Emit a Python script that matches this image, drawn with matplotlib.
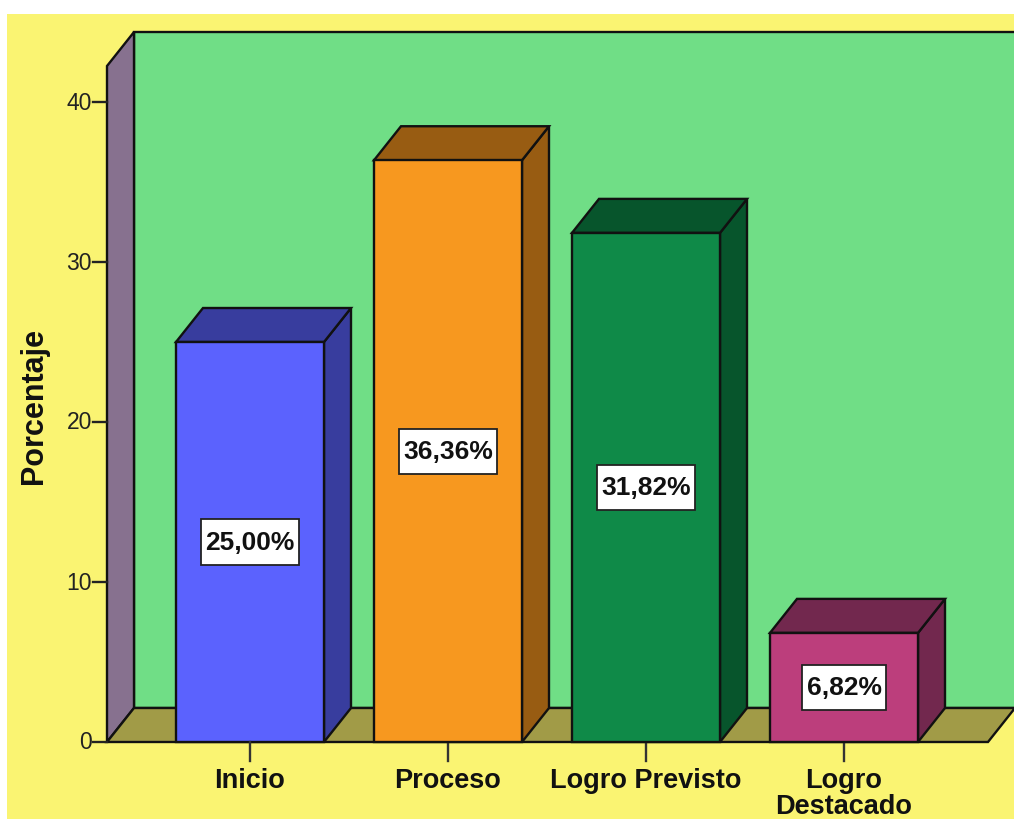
import matplotlib
matplotlib.use("Agg")
import matplotlib.pyplot as plt
from matplotlib.patches import Polygon, Rectangle
from matplotlib.path import Path

# ---- data ----
categories = ["Inicio", "Proceso", "Logro Previsto", "Logro\nDestacado"]
values = [25.00, 36.36, 31.82, 6.82]
value_labels = ["25,00%", "36,36%", "31,82%", "6,82%"]
yticks = [0, 10, 20, 30, 40]
ylabel = "Porcentaje"

front_colors = ["#5B62FE", "#F7981F", "#0F8A48", "#BC3E7C"]
dark_colors = ["#383D9E", "#985C12", "#07552C", "#72284E"]

# ---- layout (pixel geometry of the figure) ----
W, H = 1014, 820
DPI = 100
px_per_unit = 16.0      # pixels per percentage unit
y0_px = 743             # pixel row of value 0 (from top)
cat0_px = 250           # pixel column of first category centre
cat_step_px = 198
bar_w = 148 / cat_step_px
dx = 27 / cat_step_px   # depth offset (x, in category units)
dy = 34 / px_per_unit   # depth offset (y, in percent units)
ax_left = (107 - cat0_px) / cat_step_px
floor_right = (988 - cat0_px) / cat_step_px
y_top = 42.25

def px2x(px):
    return (px - cat0_px) / cat_step_px


def label_box(x0, y0, width, height, mutation_size):
    # rectangle with small horizontal and larger vertical padding (display units)
    padx = 0.17 * mutation_size
    pady = 0.40 * mutation_size
    x0, x1 = x0 - padx, x0 + width + padx
    y0, y1 = y0 - pady, y0 + height + pady
    return Path([(x0, y0), (x1, y0), (x1, y1), (x0, y1), (x0, y0)],
                [Path.MOVETO, Path.LINETO, Path.LINETO, Path.LINETO, Path.CLOSEPOLY])


fig = plt.figure(figsize=(W / DPI, H / DPI), dpi=DPI, facecolor="white")
ax = fig.add_axes([0, 0, 1, 1])
ax.set_xlim(px2x(0), px2x(W))
ax.set_ylim(-(H - y0_px) / px_per_unit, y0_px / px_per_unit)
ax.axis("off")

# yellow background (white strip top and left)
ax.add_patch(Rectangle((7 / W, 0), 1, (H - 15) / H, transform=ax.transAxes,
                       facecolor="#FAF472", edgecolor="none", zorder=0))

lw = 1.7
ec = "#111111"
right_ext = px2x(W + 60)

# back wall
ax.add_patch(Polygon([(ax_left + dx, dy), (right_ext, dy), (right_ext, y_top + dy),
                      (ax_left + dx, y_top + dy)], closed=True,
                     facecolor="#70DE86", edgecolor=ec, lw=lw, zorder=1))
# side wall
ax.add_patch(Polygon([(ax_left, 0), (ax_left + dx, dy), (ax_left + dx, y_top + dy),
                      (ax_left, y_top)], closed=True,
                     facecolor="#87718F", edgecolor=ec, lw=lw, zorder=2))
# floor
ax.add_patch(Polygon([(ax_left, 0), (floor_right, 0), (floor_right + dx, dy),
                      (right_ext, dy), (ax_left + dx, dy)], closed=True,
                     facecolor="#A19B47", edgecolor=ec, lw=lw, zorder=2))

# bars
for i, (v, fc, dc, lab) in enumerate(zip(values, front_colors, dark_colors, value_labels)):
    xl = i - bar_w / 2
    xr = i + bar_w / 2
    z = 3 + i
    ax.add_patch(Polygon([(xr, 0), (xr + dx, dy), (xr + dx, v + dy), (xr, v)], closed=True,
                         facecolor=dc, edgecolor=ec, lw=lw, zorder=z))
    ax.add_patch(Polygon([(xl, v), (xr, v), (xr + dx, v + dy), (xl + dx, v + dy)], closed=True,
                         facecolor=dc, edgecolor=ec, lw=lw, zorder=z))
    ax.add_patch(Rectangle((xl, 0), bar_w, v, facecolor=fc, edgecolor=ec, lw=lw, zorder=z))
    ax.text(i, v / 2, lab, ha="center", va="center", fontsize=19, fontweight="bold",
            family=["Liberation Sans", "DejaVu Sans"],
            color="#111111", zorder=10,
            bbox=dict(boxstyle=label_box, facecolor="white", edgecolor="#222222", lw=1.3))

# x axis ticks and labels
tick_len_x = 19 / px_per_unit
for i, c in enumerate(categories):
    ax.plot([i, i], [0, -tick_len_x], color="#333333", lw=1.7, zorder=3)
    ax.text(i, -25 / px_per_unit, c, ha="center", va="top", fontsize=19.5, fontweight="bold",
            family=["Liberation Sans", "DejaVu Sans"], color="#111111", linespacing=1.0,
            multialignment="center")

# y axis ticks and labels
tick_len_y = 14 / cat_step_px
for t in yticks:
    ax.plot([ax_left - tick_len_y, ax_left], [t, t], color="#222222", lw=1.7, zorder=3)
    ax.text(ax_left - tick_len_y - 1 / cat_step_px, t, str(t), ha="right", va="center",
            fontsize=16.5, family=["Liberation Sans", "DejaVu Sans"], color="#222222")

ax.text(px2x(34), (y0_px - 406) / px_per_unit, ylabel, rotation=90, ha="center", va="center",
        fontsize=22, fontweight="bold", family=["Liberation Sans", "DejaVu Sans"], color="#111111")

fig.savefig("out.png", dpi=DPI, facecolor=fig.get_facecolor())
